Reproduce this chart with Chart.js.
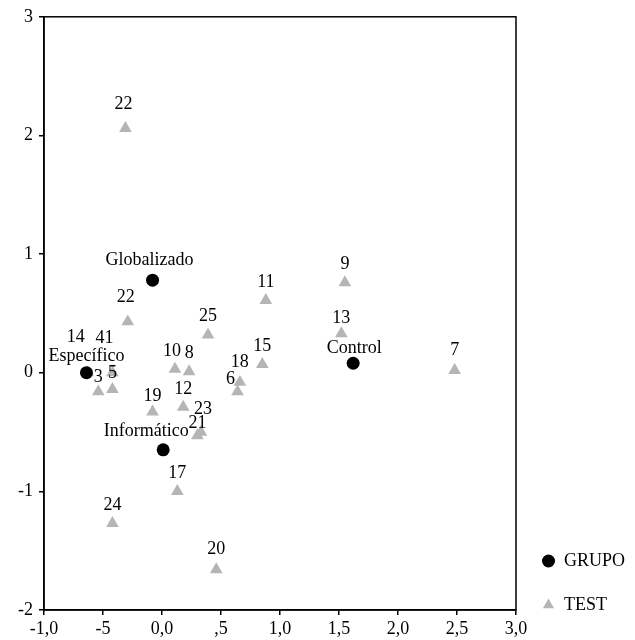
<!DOCTYPE html>
<html>
<head>
<meta charset="utf-8">
<script src="https://cdn.jsdelivr.net/npm/chart.js@4/dist/chart.umd.min.js"></script>
<style>
body { margin: 0; background: #fff; }
#wrap { width: 635px; height: 640px; }
</style>
</head>
<body>
<div id="wrap"><canvas id="grafico" width="635" height="640"></canvas></div>
<script>
// Grupos (círculos negros)
const grupoNomes = ['Globalizado', 'Específico', 'Informático', 'Control'];
const grupoX = [-0.08, -0.64, 0.01, 1.62];
const grupoY = [0.78, 0.00, -0.65, 0.08];

// Tests (triángulos grises)
const testNomes = ['22', '22', '9', '11', '25', '13', '15', '7', '10', '8', '18', '6',
                   '14', '41', '3', '5', '19', '12', '23', '21', '17', '24', '20'];
const testX = [-0.31, -0.29, 1.55, 0.88, 0.39, 1.52, 0.85, 2.48, 0.11, 0.23, 0.66, 0.64,
               -0.63, -0.42, -0.54, -0.42, -0.08, 0.18, 0.33, 0.30, 0.13, -0.42, 0.46];
const testY = [2.06, 0.43, 0.76, 0.61, 0.32, 0.33, 0.07, 0.02, 0.03, 0.01, -0.08, -0.16,
               0.00, 0.00, -0.16, -0.14, -0.33, -0.29, -0.50, -0.53, -1.00, -1.27, -1.66];

// Rótulos dos eixos
const ticksX = ['-1,0', '-5', '0,0', ',5', '1,0', '1,5', '2,0', '2,5', '3,0'];
const ticksY = ['-2', '-1', '0', '1', '2', '3'];

const fonte = "'Liberation Serif', 'DejaVu Serif', serif";

// pequenos ajustes dos rótulos onde eles se sobrepõem
const ajusteRotulo = {
    '14': [-12, -17], '41': [-8, -16], '3': [0, 4], '5': [0, 2],
    '23': [2, -5], '21': [0, 6], '6': [-7, 6], '22': [-2, -6],
    '13': [0, 3], '10': [-3, 0], '18': [0, -2], '7': [0, -2],
    '19': [0, 2], '20': [0, -2],
    'Informático': [-17, -1], 'Control': [1, 3], 'Globalizado': [-3, -2], 'Específico': [0, 2]
};

function pontos(xs, ys) {
    return xs.map((x, i) => ({ x: x, y: ys[i] }));
}

// Desenha o nome de cada ponto logo acima dele
const rotulosPlugin = {
    id: 'rotulos',
    afterDatasetsDraw(chart) {
        const ctx = chart.ctx;
        const nomes = [grupoNomes, testNomes];
        ctx.save();
        ctx.font = '18px ' + fonte;
        ctx.fillStyle = '#000';
        ctx.textAlign = 'center';
        ctx.textBaseline = 'middle';
        nomes.forEach((lista, d) => {
            chart.getDatasetMeta(d).data.forEach((el, i) => {
                const nome = lista[i];
                const aj = ajusteRotulo[nome] || [0, 0];
                ctx.fillText(nome, el.x + aj[0], el.y - 18 + aj[1]);
            });
        });
        ctx.restore();
    }
};

// Moldura completa em volta da área do gráfico
const molduraPlugin = {
    id: 'moldura',
    afterDraw(chart) {
        const a = chart.chartArea;
        const ctx = chart.ctx;
        ctx.save();
        ctx.strokeStyle = '#000';
        ctx.lineWidth = 1.5;
        ctx.strokeRect(a.left, a.top, a.right - a.left, a.bottom - a.top);
        ctx.restore();
    }
};

const ctx = document.getElementById('grafico').getContext('2d');
new Chart(ctx, {
    type: 'scatter',
    data: {
        datasets: [{
            label: 'GRUPO',
            data: pontos(grupoX, grupoY),
            pointStyle: 'circle',
            pointRadius: 6.5,
            pointHoverRadius: 6.5,
            backgroundColor: '#000',
            borderColor: '#000',
            borderWidth: 0
        }, {
            label: 'TEST',
            data: pontos(testX, testY),
            pointStyle: 'triangle',
            pointRadius: 7.3,
            pointHoverRadius: 7.3,
            backgroundColor: '#b5b5b5',
            borderColor: '#b5b5b5',
            borderWidth: 0
        }]
    },
    options: {
        responsive: false,
        animation: false,
        layout: { padding: { top: 16, right: 0, bottom: 0, left: 0 } },
        plugins: {
            tooltip: { enabled: false },
            legend: {
                position: 'right',
                align: 'end',
                labels: {
                    usePointStyle: true,
                    boxWidth: 13,
                    boxHeight: 9.2,
                    padding: 26,
                    color: '#000',
                    font: { family: fonte, size: 18 }
                }
            }
        },
        scales: {
            x: {
                type: 'linear',
                min: -1,
                max: 3,
                afterFit(scale) { scale.height = 30; },
                border: { display: true, color: '#000', width: 1.5 },
                grid: { drawOnChartArea: false, drawTicks: true, tickLength: 5, color: '#000', lineWidth: 1.5 },
                ticks: {
                    stepSize: 0.5,
                    padding: 3,
                    color: '#000',
                    font: { family: fonte, size: 18 },
                    maxRotation: 0,
                    autoSkip: false,
                    callback: (v, i) => ticksX[i]
                }
            },
            y: {
                type: 'linear',
                min: -2,
                max: 3,
                afterFit(scale) { scale.width = 44; },
                border: { display: true, color: '#000', width: 1.5 },
                grid: { drawOnChartArea: false, drawTicks: true, tickLength: 5, color: '#000', lineWidth: 1.5 },
                ticks: {
                    stepSize: 1,
                    padding: 6,
                    color: '#000',
                    font: { family: fonte, size: 18 },
                    autoSkip: false,
                    callback: (v, i) => ticksY[i]
                }
            }
        }
    },
    plugins: [rotulosPlugin, molduraPlugin]
});
</script>
</body>
</html>
